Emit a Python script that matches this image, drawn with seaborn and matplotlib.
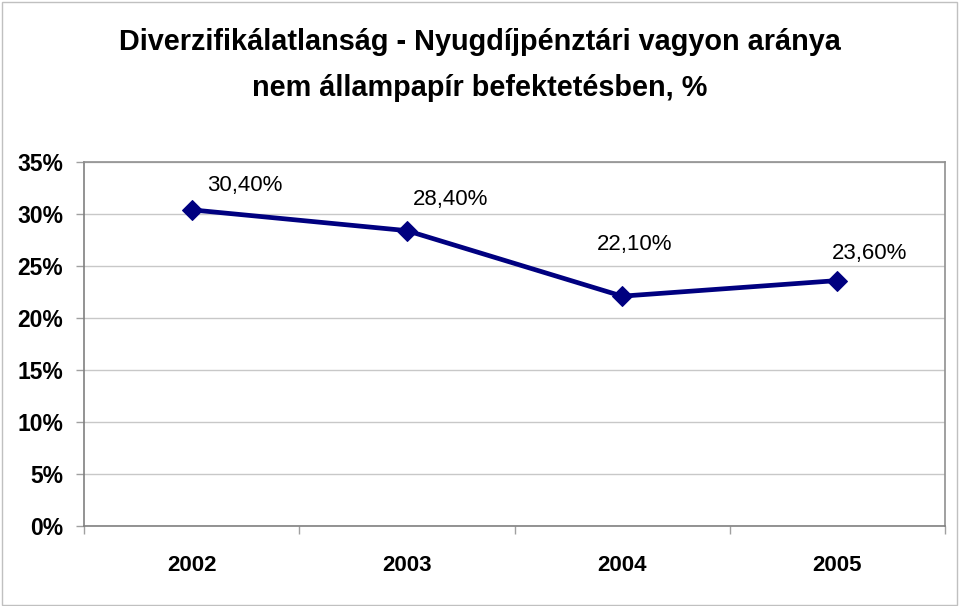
import matplotlib
matplotlib.use("Agg")
import matplotlib.pyplot as plt
import seaborn as sns
import pandas as pd
from matplotlib.ticker import FixedLocator, FuncFormatter
from matplotlib.patches import Rectangle

years = ["2002", "2003", "2004", "2005"]
values = [30.4, 28.4, 22.1, 23.6]
value_labels = ["30,40%", "28,40%", "22,10%", "23,60%"]
y_ticks = [0, 5, 10, 15, 20, 25, 30, 35]

# label offsets in pixels (dx, dy) relative to the point
label_offsets = [(53, 24), (44, 31), (12, 52), (32, 27)]

sns.set_theme(style="white")
plt.rcParams['font.family'] = ['Liberation Sans', 'DejaVu Sans']
plt.rcParams['text.color'] = 'black'
plt.rcParams['xtick.color'] = 'black'
plt.rcParams['ytick.color'] = 'black'

df = pd.DataFrame({"pos": range(len(years)), "value": values})

fig = plt.figure(figsize=(9.6, 6.06), dpi=100)
ax = fig.add_axes([84/960, 1 - 526/606, (945-84)/960, (526-162)/606])

sns.lineplot(data=df, x="pos", y="value", ax=ax, color="#000080", linewidth=3.4,
             marker="D", markersize=10, markeredgecolor="#000080",
             markerfacecolor="#000080", zorder=5, clip_on=False)

ax.set_xlim(-0.5, len(years) - 0.5)
ax.set_ylim(0, 35)
ax.yaxis.set_major_locator(FixedLocator(y_ticks))
ax.yaxis.set_major_formatter(FuncFormatter(lambda v, p: f"{int(v)}%"))
ax.grid(axis="y", color="#c8c8c8", linewidth=1.0)
ax.set_axisbelow(True)

# x ticks at category boundaries, labels at centers
ax.set_xticks([i - 0.5 for i in range(len(years) + 1)])
ax.set_xticklabels([])
ax.set_xticks(range(len(years)), minor=True)
ax.set_xticklabels(years, minor=True, fontsize=16, fontweight="bold", color="black")
ax.tick_params(axis="x", which="major", length=6, width=1, color="#a0a0a0", direction="out", bottom=True)
ax.tick_params(axis="x", which="minor", length=0, pad=21)
ax.tick_params(axis="y", length=6, width=1, color="#a0a0a0", labelcolor="black",
               direction="out", left=True, pad=9)
for lab in ax.get_yticklabels():
    lab.set_fontsize(16.5)
    lab.set_fontweight("bold")

for side in ["left", "bottom"]:
    ax.spines[side].set_color("#808080")
    ax.spines[side].set_linewidth(1.2)
for side in ["top", "right"]:
    ax.spines[side].set_color("#909090")
    ax.spines[side].set_linewidth(1.2)
    ax.spines[side].set_visible(True)

ax.set_xlabel("")
ax.set_ylabel("")

for i, (v, lab) in enumerate(zip(values, value_labels)):
    dx, dy = label_offsets[i]
    ax.annotate(lab, xy=(i, v), xytext=(dx * 0.72, dy * 0.72), textcoords="offset points",
                ha="center", va="center", fontsize=16, color="black")

fig.text(0.5, 1 - 42/606, "Diverzifikálatlanság - Nyugdíjpénztári vagyon aránya",
         ha="center", va="center", fontsize=20.8, fontweight="bold", color="black")
fig.text(0.5, 1 - 88/606, "nem állampapír befektetésben, %",
         ha="center", va="center", fontsize=20.8, fontweight="bold", color="black")

fig.patches.append(Rectangle((0.002, 0.002), 0.995, 0.995, transform=fig.transFigure,
                             fill=False, edgecolor="#c0c0c0", linewidth=1))

fig.savefig("out.png", dpi=100)
